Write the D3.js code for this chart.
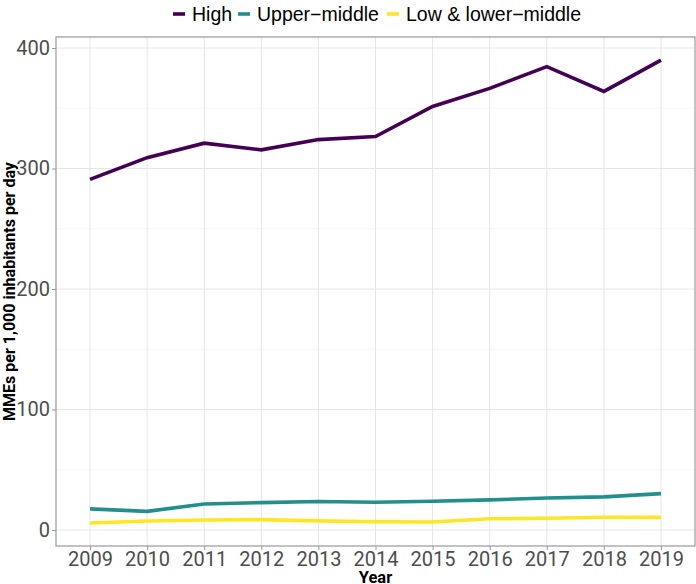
<!doctype html>
<html>
<head>
<script src="https://d3js.org/d3.v7.min.js"></script>
<style>
  body { margin: 0; background: #fff; }
</style>
</head>
<body>
<svg width="696" height="584"></svg>
<script>
// data
var years = [2009, 2010, 2011, 2012, 2013, 2014, 2015, 2016, 2017, 2018, 2019];
var seriesNames = ["High", "Upper\u2212middle", "Low & lower\u2212middle"];
var highVals = [291, 309, 321, 315.5, 324, 326.5, 351.5, 366.5, 384.5, 364, 390];
var upperVals = [17.5, 15.5, 21.6, 22.7, 23.6, 23, 23.8, 25, 26.6, 27.5, 30.2];
var lowVals = [5.8, 7.5, 8.3, 8.6, 7.6, 6.9, 6.7, 9.3, 9.8, 10.6, 10.5];
var colors = ["#440154", "#21908C", "#FDE725"];
var yTicks = [0, 100, 200, 300, 400];
var yMinor = [50, 150, 250, 350];

var svg = d3.select("svg");
var panel = {left: 56, right: 695, top: 37, bottom: 546};

var x = d3.scaleLinear().domain([2009, 2019]).range([90, 661]);
var y = d3.scaleLinear().domain([0, 400]).range([530, 48]);

// grid
var grid = svg.append("g");
grid.selectAll(".ymin").data(yMinor).enter().append("line")
  .attr("x1", panel.left).attr("x2", panel.right)
  .attr("y1", d => y(d)).attr("y2", d => y(d))
  .attr("stroke", "#f2f2f2").attr("stroke-width", 0.6);
grid.selectAll(".ymaj").data(yTicks).enter().append("line")
  .attr("x1", panel.left).attr("x2", panel.right)
  .attr("y1", d => y(d)).attr("y2", d => y(d))
  .attr("stroke", "#e6e6e6").attr("stroke-width", 1);
grid.selectAll(".xmaj").data(years).enter().append("line")
  .attr("y1", panel.top).attr("y2", panel.bottom)
  .attr("x1", d => x(d)).attr("x2", d => x(d))
  .attr("stroke", "#e6e6e6").attr("stroke-width", 1);

// lines
var line = d3.line().x((d, i) => x(years[i])).y(d => y(d));
[highVals, upperVals, lowVals].forEach(function(vals, i) {
  svg.append("path")
    .datum(vals)
    .attr("d", line)
    .attr("fill", "none")
    .attr("stroke", colors[i])
    .attr("stroke-width", 3.6);
});

// panel border
svg.append("rect")
  .attr("x", panel.left).attr("y", panel.top)
  .attr("width", panel.right - panel.left).attr("height", panel.bottom - panel.top)
  .attr("fill", "none").attr("stroke", "#999").attr("stroke-width", 1.2);

// axes
var xAxis = svg.append("g")
  .attr("transform", "translate(0," + panel.bottom + ")")
  .call(d3.axisBottom(x).tickValues(years).tickFormat(d3.format("d")).tickSize(4).tickPadding(2));
var yAxis = svg.append("g")
  .attr("transform", "translate(" + panel.left + ",0)")
  .call(d3.axisLeft(y).tickValues(yTicks).tickSize(4).tickPadding(2));
[xAxis, yAxis].forEach(function(a) {
  a.select(".domain").remove();
  a.selectAll(".tick line").attr("stroke", "#999");
  a.selectAll(".tick text")
    .attr("fill", "#4d4d4d")
    .style("font-family", "Roboto")
    .style("font-size", "20px");
});

// axis titles
svg.append("text")
  .attr("x", (panel.left + panel.right) / 2)
  .attr("y", 583)
  .attr("text-anchor", "middle")
  .style("font-family", "Roboto")
  .style("font-weight", "bold")
  .style("font-size", "16.5px")
  .text("Year");

svg.append("text")
  .attr("transform", "translate(15," + (panel.top + panel.bottom) / 2 + ")rotate(-90)")
  .attr("text-anchor", "middle")
  .style("font-family", "Roboto")
  .style("font-weight", "bold")
  .style("font-size", "16px")
  .text("MMEs per 1,000 inhabitants per day");

// legend
var legendX = [173, 238, 387];
var legend = svg.append("g");
seriesNames.forEach(function(name, i) {
  legend.append("line")
    .attr("x1", legendX[i]).attr("x2", legendX[i] + 12)
    .attr("y1", 14).attr("y2", 14)
    .attr("stroke", colors[i]).attr("stroke-width", 3.6);
  legend.append("text")
    .attr("x", legendX[i] + 19)
    .attr("y", 21)
    .style("font-family", "Liberation Sans, Arial")
    .style("font-size", "19.5px")
    .attr("fill", "#000")
    .text(name);
});
</script>
</body>
</html>
